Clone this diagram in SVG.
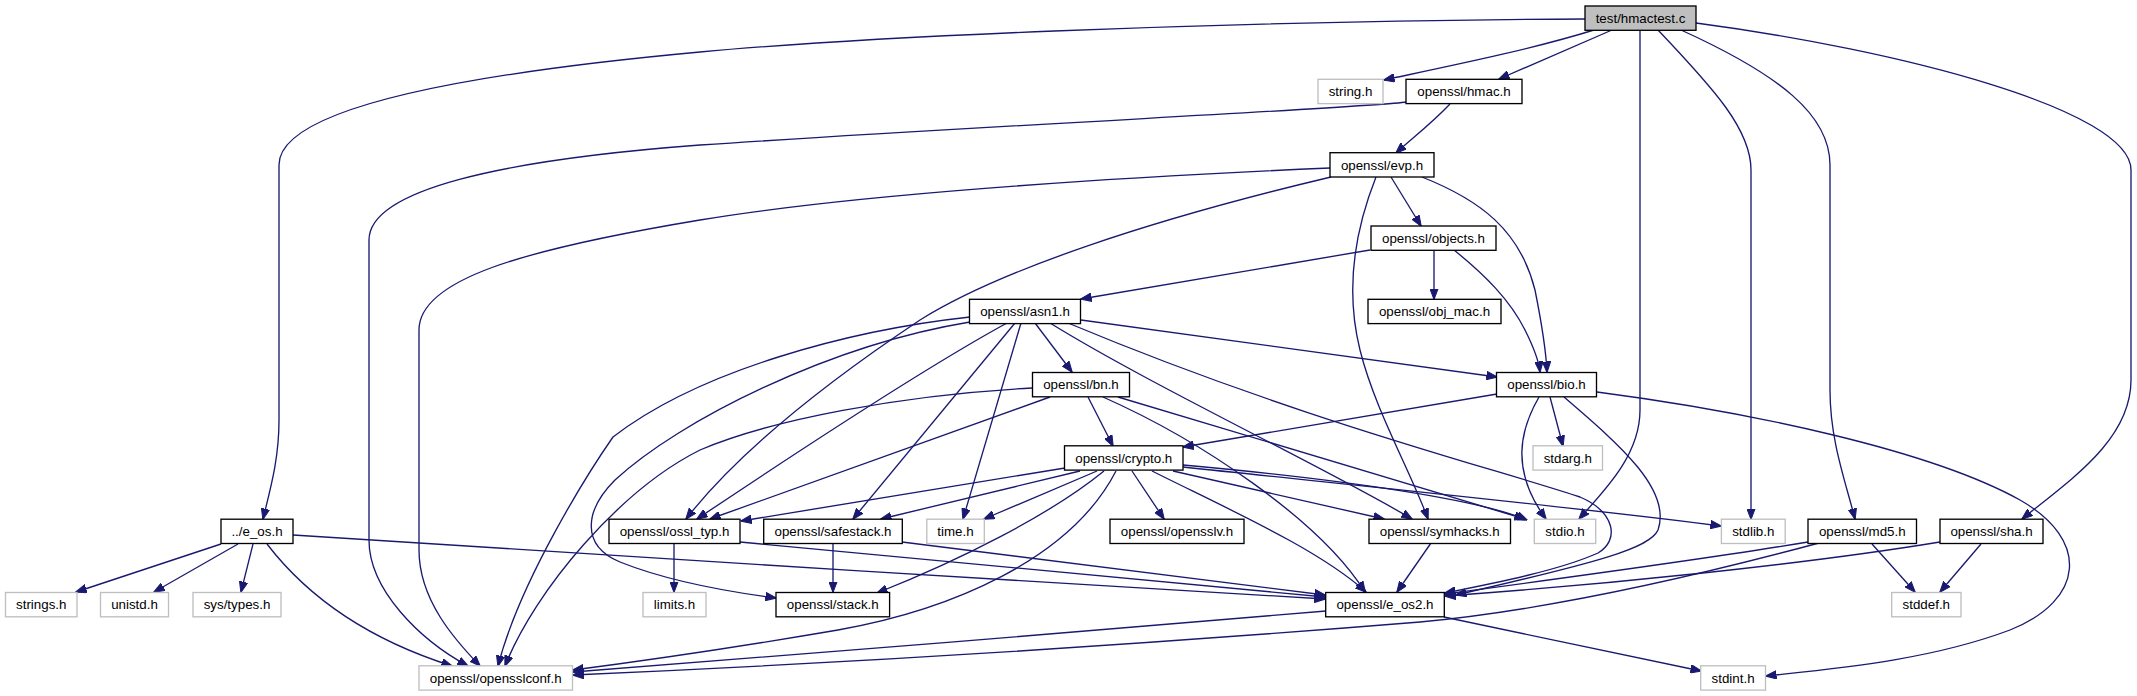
<svg xmlns="http://www.w3.org/2000/svg" width="2137" height="696" viewBox="0 0 2137 696">
<style>
.n rect{fill:#ffffff;stroke:#000000;stroke-width:1.33}
.g rect{fill:#ffffff;stroke:#bfbfbf;stroke-width:1.33}
.r rect{fill:#bfbfbf;stroke:#000000;stroke-width:1.33}
text{font-family:"Liberation Sans",Arial,Helvetica,sans-serif;font-size:13.33px;text-anchor:middle;fill:#000000}
#edges path{fill:none;stroke:#191970;stroke-width:1.33;marker-end:url(#a)}
</style>
<defs>
<marker id="a" viewBox="0 0 11 9" refX="10.5" refY="4.5" markerWidth="11" markerHeight="9" markerUnits="userSpaceOnUse" orient="auto">
<path d="M0,0.3 L11,4.5 L0,8.7 z" fill="#191970" stroke="#191970" stroke-width="1"/>
</marker>
</defs>
<rect width="2137" height="696" fill="#ffffff"/>
<g id="edges">
<path d="M1585,19 C1200,21 850,38 700,52 C450,75 279,110 279,165 L279,420 C279,460 270,490 263,519"/>
<path d="M1594,30 C1530,50 1440,68 1384,80"/>
<path d="M1612,30 L1499,79"/>
<path d="M1640,30 L1640,410 C1640,455 1605,490 1579,519"/>
<path d="M1658,30 C1715,90 1751,130 1751,170 L1751,519"/>
<path d="M1681,30 C1780,75 1830,115 1830,165 L1830,390 C1830,440 1845,480 1855,519"/>
<path d="M1696,23 C1900,50 2131,110 2131,170 L2131,380 C2131,440 2070,480 2022,519"/>
<path d="M1450,104 C1430,125 1410,140 1396,153"/>
<path d="M1406,102 C1380,107 1000,125 700,145 C500,160 369,190 369,240 L369,540 C369,590 420,640 468,666"/>
<path d="M1330,168 C1100,178 850,195 700,220 C520,250 419,280 419,330 L419,550 C419,600 455,640 480,666"/>
<path d="M1331,177 C1150,220 1000,270 920,320 C830,380 740,450 686,519"/>
<path d="M1376,177 C1355,230 1345,290 1360,350 C1375,410 1410,470 1428,519"/>
<path d="M1422,177 C1480,200 1520,230 1535,290 C1543,330 1546,350 1547,372"/>
<path d="M1391,177 L1421,226"/>
<path d="M1370,250 L1081,299"/>
<path d="M1434,250 L1434,299"/>
<path d="M1454,250 C1485,275 1510,300 1525,330 C1535,350 1539,362 1540,372"/>
<path d="M970,317 C850,330 700,370 613,437 C590,470 520,580 498,666"/>
<path d="M970,322 C830,345 680,420 615,480 C585,510 580,545 620,562 C670,582 730,592 776,598"/>
<path d="M1007,323 C930,365 800,450 697,519"/>
<path d="M1015,323 L853,519"/>
<path d="M1021,323 L963,519"/>
<path d="M1035,323 L1072,372"/>
<path d="M1050,323 C1150,385 1330,470 1412,519"/>
<path d="M1068,323 C1300,420 1500,470 1580,497 C1615,512 1620,540 1598,553 C1560,570 1500,582 1445,593"/>
<path d="M1081,320 L1497,377"/>
<path d="M1032,388 C900,395 770,420 700,450 C620,490 535,590 505,666"/>
<path d="M1050,397 L710,519"/>
<path d="M1088,397 L1113,446"/>
<path d="M1103,397 C1200,440 1320,520 1365,592"/>
<path d="M1118,397 L1525,519"/>
<path d="M1497,394 L1183,447"/>
<path d="M1539,397 C1520,430 1510,470 1546,519"/>
<path d="M1550,397 L1563,446"/>
<path d="M1564,397 C1620,445 1672,490 1658,530 C1650,548 1600,562 1456,595"/>
<path d="M1597,392 C1750,412 1930,450 2020,500 C2090,540 2085,600 2010,630 C1930,660 1840,668 1766,676"/>
<path d="M1065,468 L741,521"/>
<path d="M1080,471 L881,519"/>
<path d="M1097,471 L984,519"/>
<path d="M1104,471 C1050,515 960,560 877,593"/>
<path d="M1116,471 C1070,560 950,610 838,630 C750,645 650,660 573,670"/>
<path d="M1132,471 L1164,519"/>
<path d="M1152,471 C1230,510 1320,550 1366,592"/>
<path d="M1173,471 L1384,519"/>
<path d="M1183,465 C1350,480 1480,500 1527,520"/>
<path d="M1183,467 C1400,490 1600,510 1721,526"/>
<path d="M221,544 L76,592"/>
<path d="M238,544 L154,592"/>
<path d="M253,544 L241,592"/>
<path d="M267,544 C310,600 370,640 452,666"/>
<path d="M293,535 C600,555 1000,580 1325,599"/>
<path d="M740,542 L1325,597"/>
<path d="M674,543 L674,592"/>
<path d="M833,543 L833,592"/>
<path d="M902,542 L1325,595"/>
<path d="M1431,543 L1397,592"/>
<path d="M1808,542 C1700,560 1550,580 1445,594"/>
<path d="M1819,543 C1700,575 1550,610 1420,622 C1100,648 800,665 573,675"/>
<path d="M1940,542 C1800,565 1600,585 1445,596"/>
<path d="M1872,544 L1915,592"/>
<path d="M1981,544 L1940,592"/>
<path d="M1326,611 C1100,630 800,655 573,672"/>
<path d="M1444,617 L1701,671"/>
</g>
<g id="n_hmactest" class="r"><rect x="1585" y="6" width="111" height="24.3"/><text x="1640.5" y="22.8">test/hmactest.c</text></g>
<g id="n_string" class="g"><rect x="1318" y="79.3" width="65" height="24.3"/><text x="1350.5" y="96.1">string.h</text></g>
<g id="n_hmac" class="n"><rect x="1406" y="79.3" width="116" height="24.3"/><text x="1464" y="96.1">openssl/hmac.h</text></g>
<g id="n_evp" class="n"><rect x="1330" y="152.7" width="104" height="24.3"/><text x="1382" y="169.5">openssl/evp.h</text></g>
<g id="n_objects" class="n"><rect x="1371" y="226" width="125" height="24.3"/><text x="1433.5" y="242.8">openssl/objects.h</text></g>
<g id="n_asn1" class="n"><rect x="969.5" y="299.3" width="111" height="24.3"/><text x="1025" y="316.1">openssl/asn1.h</text></g>
<g id="n_objmac" class="n"><rect x="1368" y="299.3" width="133" height="24.3"/><text x="1434.5" y="316.1">openssl/obj_mac.h</text></g>
<g id="n_bn" class="n"><rect x="1032.5" y="372.5" width="97" height="24.3"/><text x="1081" y="389.3">openssl/bn.h</text></g>
<g id="n_bio" class="n"><rect x="1496.5" y="372.5" width="100" height="24.3"/><text x="1546.5" y="389.3">openssl/bio.h</text></g>
<g id="n_crypto" class="n"><rect x="1064.5" y="445.8" width="118.5" height="24.3"/><text x="1123.75" y="462.6">openssl/crypto.h</text></g>
<g id="n_stdarg" class="g"><rect x="1533" y="445.8" width="69.5" height="24.3"/><text x="1567.75" y="462.6">stdarg.h</text></g>
<g id="n_e_os" class="n"><rect x="221" y="519.2" width="72" height="24.3"/><text x="257" y="536">../e_os.h</text></g>
<g id="n_ossl_typ" class="n"><rect x="609" y="519.2" width="131" height="24.3"/><text x="674.5" y="536">openssl/ossl_typ.h</text></g>
<g id="n_safestack" class="n"><rect x="763.7" y="519.2" width="138.6" height="24.3"/><text x="833" y="536">openssl/safestack.h</text></g>
<g id="n_time" class="g"><rect x="926.8" y="519.2" width="57.5" height="24.3"/><text x="955.5" y="536">time.h</text></g>
<g id="n_opensslv" class="n"><rect x="1110" y="519.2" width="134" height="24.3"/><text x="1177" y="536">openssl/opensslv.h</text></g>
<g id="n_symhacks" class="n"><rect x="1369" y="519.2" width="141.5" height="24.3"/><text x="1439.75" y="536">openssl/symhacks.h</text></g>
<g id="n_stdio" class="g"><rect x="1534.3" y="519.2" width="61.4" height="24.3"/><text x="1565" y="536">stdio.h</text></g>
<g id="n_stdlib" class="g"><rect x="1721.4" y="519.2" width="63.8" height="24.3"/><text x="1753.3" y="536">stdlib.h</text></g>
<g id="n_md5" class="n"><rect x="1808" y="519.2" width="108.5" height="24.3"/><text x="1862.25" y="536">openssl/md5.h</text></g>
<g id="n_sha" class="n"><rect x="1940" y="519.2" width="103" height="24.3"/><text x="1991.5" y="536">openssl/sha.h</text></g>
<g id="n_strings" class="g"><rect x="5.5" y="592.5" width="71.5" height="24.3"/><text x="41.25" y="609.3">strings.h</text></g>
<g id="n_unistd" class="g"><rect x="100.5" y="592.5" width="68" height="24.3"/><text x="134.5" y="609.3">unistd.h</text></g>
<g id="n_systypes" class="g"><rect x="193" y="592.5" width="88" height="24.3"/><text x="237" y="609.3">sys/types.h</text></g>
<g id="n_limits" class="g"><rect x="643" y="592.5" width="63" height="24.3"/><text x="674.5" y="609.3">limits.h</text></g>
<g id="n_stack" class="n"><rect x="776" y="592.5" width="113.6" height="24.3"/><text x="832.8" y="609.3">openssl/stack.h</text></g>
<g id="n_e_os2" class="n"><rect x="1325.7" y="592.5" width="118.6" height="24.3"/><text x="1385" y="609.3">openssl/e_os2.h</text></g>
<g id="n_stddef" class="g"><rect x="1891.7" y="592.5" width="69.3" height="24.3"/><text x="1926.3" y="609.3">stddef.h</text></g>
<g id="n_opensslconf" class="g"><rect x="419" y="665.8" width="153.5" height="24.3"/><text x="495.75" y="682.6">openssl/opensslconf.h</text></g>
<g id="n_stdint" class="g"><rect x="1700.7" y="665.8" width="64.8" height="24.3"/><text x="1733.1" y="682.6">stdint.h</text></g>
</svg>
